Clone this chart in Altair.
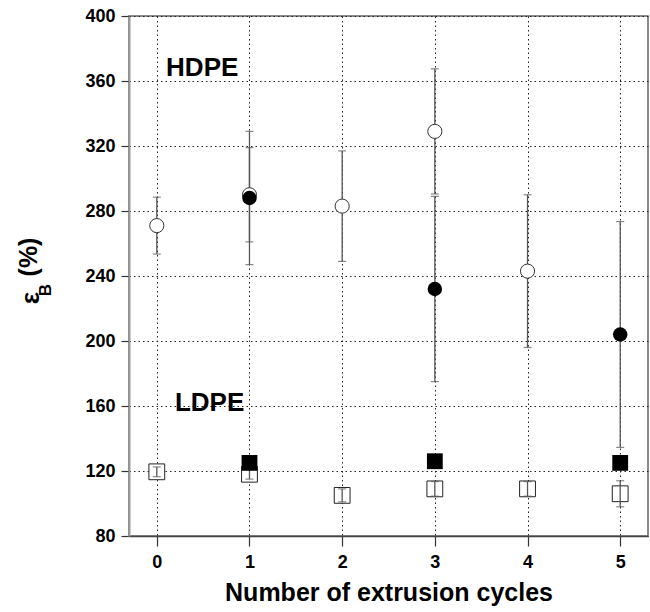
import altair as alt
import pandas as pd

# ---------------- data ----------------
cycles = [0, 1, 2, 3, 4, 5]
y_ticks = [80, 120, 160, 200, 240, 280, 320, 360, 400]

hdpe_open_x = [0, 1, 2, 3, 4]
hdpe_open_y = [271, 290, 283, 329, 243]
hdpe_open_err = [17.5, 29, 34, 38.5, 47]

hdpe_filled_x = [1, 3, 5]
hdpe_filled_y = [288, 232, 204]
hdpe_filled_err = [41, 57, 69.5]

ldpe_open_x = [0, 1, 2, 3, 4, 5]
ldpe_open_y = [119.5, 118, 105, 109, 109, 106]
ldpe_open_err = [3, 3, 4, 4.5, 4.5, 8]

ldpe_filled_x = [1, 3, 5]
ldpe_filled_y = [125, 126, 125]
ldpe_filled_err = [2, 2, 2]

label_text = ["HDPE", "LDPE"]
label_x = [0.49, 0.57]
label_y = [368, 162]

x_title = "Number of extrusion cycles"
y_title_parts = ["ε", "B", "(%)"]


def frame(xs, ys, es):
    return pd.DataFrame({
        "x": xs,
        "y": ys,
        "lo": [v - e for v, e in zip(ys, es)],
        "hi": [v + e for v, e in zip(ys, es)],
    })


hdpe_open = frame(hdpe_open_x, hdpe_open_y, hdpe_open_err)
hdpe_filled = frame(hdpe_filled_x, hdpe_filled_y, hdpe_filled_err)
ldpe_open = frame(ldpe_open_x, ldpe_open_y, ldpe_open_err)
ldpe_filled = frame(ldpe_filled_x, ldpe_filled_y, ldpe_filled_err)
labels = pd.DataFrame({"t": label_text, "x": label_x, "y": label_y})

FONT = "Liberation Sans"
xs = alt.Scale(domain=[-0.3, 5.3], nice=False, zero=False)
ys = alt.Scale(domain=[80, 400], nice=False, zero=False)

X_AXIS = alt.Axis(values=cycles, title=x_title, format="d",
                  tickSize=10, labelPadding=7, titlePadding=9,
                  domainColor="#444", domainWidth=1.5)
Y_AXIS = alt.Axis(values=y_ticks, title=None, format="d",
                  tickSize=8, labelPadding=6,
                  domainColor="#999", domainWidth=2)


def X():
    return alt.X("x:Q", scale=xs, axis=X_AXIS)


def Y(f="y"):
    return alt.Y(f + ":Q", scale=ys, axis=Y_AXIS)


ERR = "#555"


def errbars(df):
    rule = alt.Chart(df).mark_rule(color=ERR, strokeWidth=1.3).encode(
        x=X(), y=Y("lo"), y2="hi")
    cap_lo = alt.Chart(df).mark_tick(color=ERR, orient="horizontal",
                                     size=8, thickness=1.2).encode(x=X(), y=Y("lo"))
    cap_hi = alt.Chart(df).mark_tick(color=ERR, orient="horizontal",
                                     size=8, thickness=1.2).encode(x=X(), y=Y("hi"))
    return [rule, cap_lo, cap_hi]


open_circles = alt.Chart(hdpe_open).mark_point(
    shape="circle", size=200, filled=True, fill="white",
    stroke="#333", strokeWidth=1, opacity=1).encode(x=X(), y=Y())
filled_circles = alt.Chart(hdpe_filled).mark_point(
    shape="circle", size=210, filled=True, color="black", opacity=1).encode(x=X(), y=Y())

open_squares = alt.Chart(ldpe_open).mark_point(
    shape="square", size=250, filled=True, fill="white",
    stroke="#222", strokeWidth=1, opacity=1).encode(x=X(), y=Y())
filled_squares = alt.Chart(ldpe_filled).mark_point(
    shape="square", size=250, filled=True, color="black", opacity=1).encode(x=X(), y=Y())

text_labels = alt.Chart(labels).mark_text(
    font=FONT, fontWeight="bold", fontSize=26, color="black",
    align="center", baseline="middle").encode(x=X(), y=Y(), text="t:N")

yt_eps = alt.Chart(pd.DataFrame({"t": [y_title_parts[0]]})).mark_text(
    font=FONT, fontWeight="bold", fontSize=26, angle=270, color="black",
    align="center", baseline="middle").encode(
    x=alt.value(-98), y=alt.value(282), text="t:N")
yt_sub = alt.Chart(pd.DataFrame({"t": [y_title_parts[1]]})).mark_text(
    font=FONT, fontWeight="bold", fontSize=17, angle=270, color="black",
    align="center", baseline="middle").encode(
    x=alt.value(-83), y=alt.value(274), text="t:N")
yt_pct = alt.Chart(pd.DataFrame({"t": [y_title_parts[2]]})).mark_text(
    font=FONT, fontWeight="bold", fontSize=25, angle=270, color="black",
    align="center", baseline="middle").encode(
    x=alt.value(-100), y=alt.value(241), text="t:N")

layers = []
layers += errbars(hdpe_filled)
layers += errbars(hdpe_open)
layers += [open_circles, filled_circles, open_squares]
layers += errbars(ldpe_open)
layers += errbars(ldpe_filled)
layers += [filled_squares, text_labels, yt_eps, yt_sub, yt_pct]

chart = alt.layer(*layers).properties(
    width=519, height=520,
    padding={"left": 129, "top": 16, "right": 2, "bottom": 76},
    autosize="none",
    background="white",
).configure_view(
    stroke="#666", strokeWidth=1.5
).configure_axis(
    labelFont=FONT, labelFontWeight="bold", labelFontSize=18, labelColor="black",
    titleFont=FONT, titleFontWeight="bold", titleFontSize=25, titleColor="black",
    tickColor="#333", tickWidth=1.2,
    grid=True, gridColor="#222", gridDash=[1.5, 3], gridWidth=1, gridOpacity=1,
)

chart.save("out.html", embed_options={"renderer": "svg", "actions": False})
